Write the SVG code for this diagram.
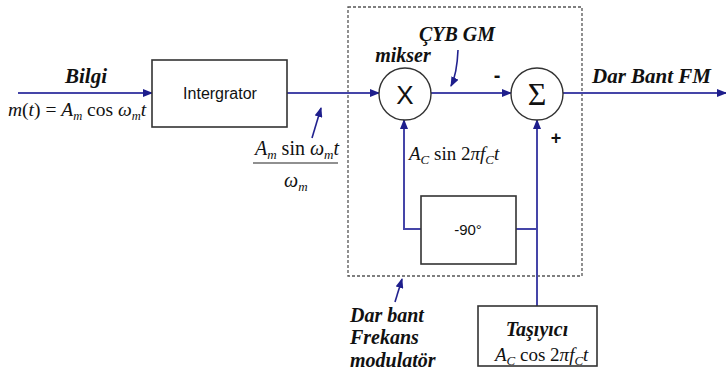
<svg xmlns="http://www.w3.org/2000/svg" width="726" height="374" viewBox="0 0 726 374">
<style>
.ln{stroke:#4545a8;stroke-width:2;fill:none}
.box{fill:#fff;stroke:#333;stroke-width:1.6}
.circ{fill:#fff;stroke:#333;stroke-width:1.4}
.lbl{font-family:'Liberation Serif','Times New Roman','DejaVu Serif',serif;font-weight:bold;font-style:italic;fill:#111}
.math{font-family:'Liberation Serif','Times New Roman','DejaVu Serif',serif;fill:#111}
.it{font-style:italic}
.sans{font-family:'Liberation Sans',Arial,sans-serif;fill:#111}
.ptr{stroke:#22228f;stroke-width:1.6;fill:none}
</style>
<defs>
<marker id="ah" markerWidth="10" markerHeight="8" refX="9" refY="4" orient="auto" markerUnits="userSpaceOnUse">
<path d="M0,0 L10,4 L0,8 Z" fill="#1e1e8c"/>
</marker>
</defs>
<rect x="348" y="7" width="234" height="269" fill="none" stroke="#555" stroke-width="1.3" stroke-dasharray="3,2"/>
<g id="connectors">
<line class="ln" x1="18" y1="93" x2="152" y2="93" marker-end="url(#ah)"/>
<line class="ln" x1="287" y1="93" x2="379" y2="93" marker-end="url(#ah)"/>
<line class="ln" x1="431" y1="93" x2="511" y2="93" marker-end="url(#ah)"/>
<line class="ln" x1="563" y1="93" x2="726" y2="93" marker-end="url(#ah)"/>
<polyline class="ln" points="421,229 404,229 404,120" marker-end="url(#ah)"/>
<polyline class="ln" points="516,229 537,229"/>
<line class="ln" x1="537" y1="306" x2="537" y2="120" marker-end="url(#ah)"/>
<line class="ptr" x1="312" y1="138" x2="321" y2="108" marker-end="url(#ah)"/>
<path class="ptr" d="M458,50 Q457,74 451,86" marker-end="url(#ah)"/>
<line class="ptr" x1="395" y1="302" x2="402" y2="279" marker-end="url(#ah)"/>
</g>
<g id="integrator">
<rect class="box" x="152" y="60" width="135" height="67"/>
<text class="sans" x="220" y="99" font-size="16" text-anchor="middle">Intergrator</text>
</g>
<g id="mixer">
<circle class="circ" cx="405" cy="94" r="26"/>
<text class="sans" x="405" y="104" font-size="26" text-anchor="middle">X</text>
</g>
<g id="sum">
<circle class="circ" cx="537" cy="94" r="26"/>
<text class="math" x="537" y="105" font-size="32" text-anchor="middle">Σ</text>
</g>
<g id="phase">
<rect class="box" x="421" y="196" width="95" height="68"/>
<text class="sans" x="468" y="235" font-size="15" text-anchor="middle">-90°</text>
</g>
<g id="carrier">
<rect class="box" x="478" y="306" width="119" height="60"/>
<text class="lbl" x="537" y="336" font-size="20" text-anchor="middle">Taşıyıcı</text>
<text class="math" x="495" y="361" font-size="19"><tspan class="it">A</tspan><tspan class="it" font-size="13" dy="4">C</tspan><tspan dy="-4"> cos 2</tspan><tspan class="it">πf</tspan><tspan class="it" font-size="13" dy="4">C</tspan><tspan class="it" dy="-4">t</tspan></text>
</g>
<g id="labels">
<text class="lbl" x="86" y="83" font-size="21" text-anchor="middle">Bilgi</text>
<text class="math" x="8" y="116" font-size="19.5"><tspan class="it">m</tspan><tspan>(</tspan><tspan class="it">t</tspan><tspan>) = </tspan><tspan class="it">A</tspan><tspan class="it" font-size="12.5" dy="4">m</tspan><tspan dy="-4"> cos </tspan><tspan class="it">ω</tspan><tspan class="it" font-size="12.5" dy="4">m</tspan><tspan class="it" dy="-4">t</tspan></text>
<text class="math" x="255" y="155" font-size="20"><tspan class="it">A</tspan><tspan class="it" font-size="13" dy="4">m</tspan><tspan dy="-4"> sin </tspan><tspan class="it">ω</tspan><tspan class="it" font-size="13" dy="4">m</tspan><tspan class="it" dy="-4">t</tspan></text>
<line x1="253" y1="163" x2="338" y2="163" stroke="#222" stroke-width="1.2"/>
<text class="math" x="284" y="187" font-size="20"><tspan class="it">ω</tspan><tspan class="it" font-size="13" dy="4">m</tspan></text>
<text class="lbl" x="457" y="41" font-size="20" text-anchor="middle">ÇYB GM</text>
<text class="lbl" x="403" y="62" font-size="20" text-anchor="middle">mikser</text>
<text class="math" x="409" y="160" font-size="19"><tspan class="it">A</tspan><tspan class="it" font-size="13" dy="4">C</tspan><tspan dy="-4"> sin 2</tspan><tspan class="it">πf</tspan><tspan class="it" font-size="13" dy="4">C</tspan><tspan class="it" dy="-4">t</tspan></text>
<text class="sans" x="497" y="82" font-size="20" font-weight="bold" text-anchor="middle">-</text>
<text class="sans" x="556" y="144" font-size="18" font-weight="bold" text-anchor="middle">+</text>
<text class="lbl" x="592" y="83" font-size="21">Dar Bant FM</text>
<text class="lbl" x="350" y="322" font-size="20">Dar bant</text>
<text class="lbl" x="350" y="344" font-size="20">Frekans</text>
<text class="lbl" x="350" y="367" font-size="20">modulatör</text>
</g>
</svg>
